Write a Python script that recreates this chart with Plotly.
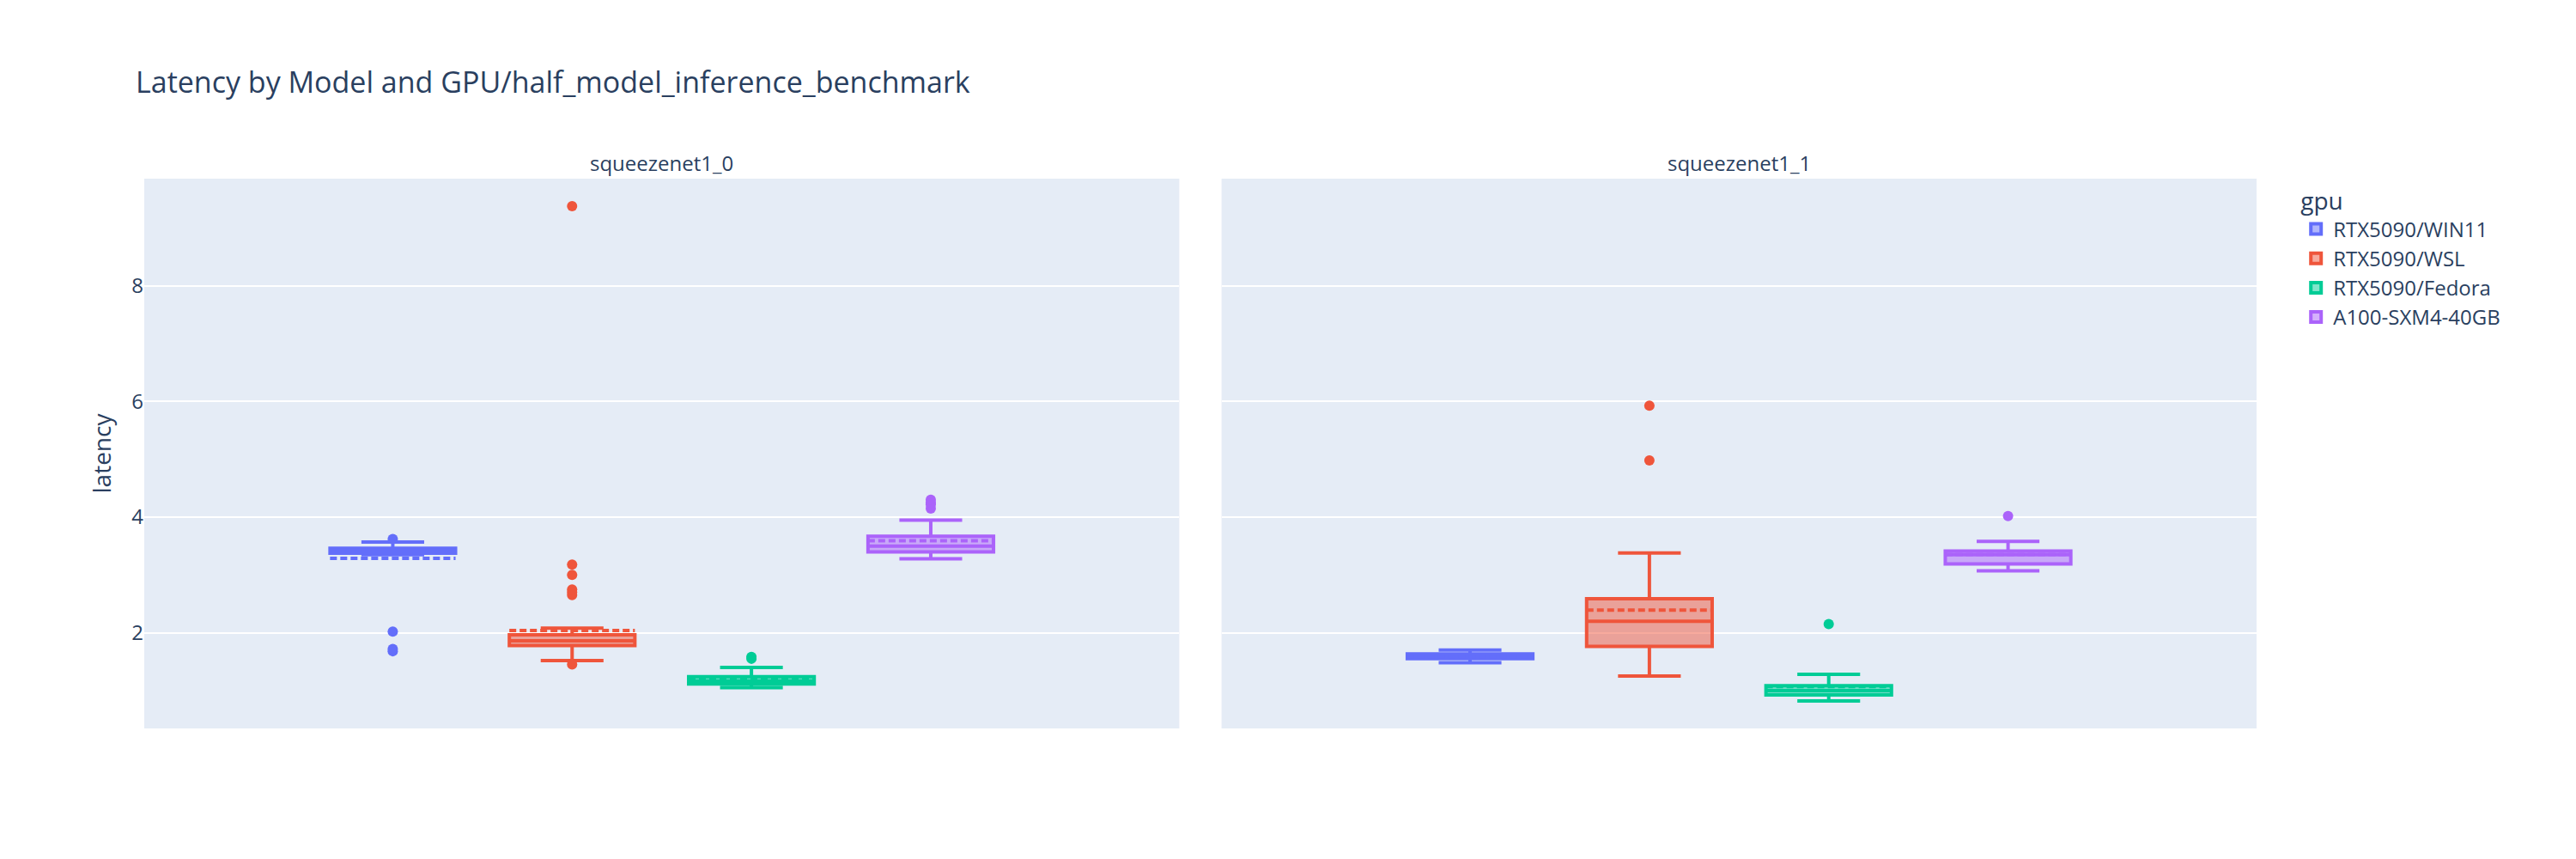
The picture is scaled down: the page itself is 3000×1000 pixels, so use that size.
import pandas as pd
import plotly.express as px

gpus = ["RTX5090/WIN11", "RTX5090/WSL", "RTX5090/Fedora", "A100-SXM4-40GB"]
models = ["squeezenet1_0", "squeezenet1_1"]

# squeezenet1_0 latency samples
s10_win11 = [3.35, 3.35, 3.36, 3.36, 3.37, 3.38, 3.38, 3.39, 3.40, 3.40, 3.41, 3.41, 3.42, 3.42, 3.42,
             3.43, 3.43, 3.44, 3.44, 3.45, 3.45, 3.46, 3.47, 3.47, 3.48, 3.49, 3.50, 3.53, 3.57, 3.62,
             2.02, 1.72, 1.68]
s10_wsl = [1.45, 1.52, 1.58, 1.62, 1.66, 1.68, 1.70, 1.71, 1.72, 1.72, 1.73, 1.74, 1.75, 1.76,
           1.77, 1.78, 1.78, 1.79, 1.80, 1.80, 1.81, 1.81, 1.82, 1.82, 1.82, 1.83, 1.83, 1.84, 1.84,
           1.85, 1.85, 1.86, 1.86, 1.87, 1.87, 1.88, 1.88, 1.89, 1.89, 1.90, 1.90, 1.90, 1.91,
           1.92, 1.93, 1.94, 1.95, 1.96, 1.97, 1.98, 1.99, 2.00, 2.02, 2.04, 2.06, 2.07, 2.08, 2.05,
           9.38, 3.18, 3.00, 2.75, 2.70, 2.65]
s10_fedora = [1.05, 1.07, 1.09, 1.10, 1.10, 1.11, 1.12, 1.13, 1.14, 1.15, 1.15, 1.16, 1.17, 1.18,
              1.19, 1.20, 1.20, 1.22, 1.26, 1.30, 1.58, 1.55, 1.40, 1.36]
s10_a100 = [3.28, 3.29, 3.30, 3.32, 3.33, 3.35, 3.38, 3.40, 3.40, 3.42, 3.45, 3.45, 3.47, 3.48,
            3.50, 3.50, 3.52, 3.55, 3.55, 3.58, 3.60, 3.64, 3.67, 3.70, 3.80, 3.95, 4.15,
            4.30, 4.25, 4.22]

# squeezenet1_1 latency samples
s11_win11 = [1.52, 1.53, 1.55, 1.56, 1.57, 1.58, 1.58, 1.59, 1.60, 1.62, 1.64, 1.65, 1.66, 1.70, 1.48]
s11_wsl = [1.25, 1.40, 1.55, 1.62, 1.66, 1.70, 1.75, 1.80, 1.90, 1.95, 2.05, 2.10, 2.15, 2.20,
           2.22, 2.25, 2.28, 2.35, 2.45, 2.55, 2.60, 2.65, 2.80, 3.05, 3.38, 5.93, 4.98]
s11_fedora = [0.82, 0.85, 0.88, 0.90, 0.93, 0.95, 0.97, 0.98, 1.00, 1.02, 1.04, 1.06, 1.08, 1.10,
              1.18, 1.28, 2.15]
s11_a100 = [3.07, 3.10, 3.14, 3.18, 3.22, 3.28, 3.32, 3.35, 3.37, 3.39, 3.40, 3.42, 3.45, 3.58, 4.02]

samples = {
    "squeezenet1_0": [s10_win11, s10_wsl, s10_fedora, s10_a100],
    "squeezenet1_1": [s11_win11, s11_wsl, s11_fedora, s11_a100],
}

rows = []
for m in models:
    for g, vals in zip(gpus, samples[m]):
        for v in vals:
            rows.append({"model": m, "gpu": g, "latency": v})
df = pd.DataFrame(rows)

fig = px.box(df, y="latency", color="gpu", facet_col="model",
             category_orders={"gpu": gpus, "model": models},
             title="Latency by Model and GPU/half_model_inference_benchmark")
fig.update_traces(boxmean=True, line_width=4, marker_size=12)
fig.for_each_annotation(lambda a: a.update(text=a.text.split("=")[-1], font_size=24))

fig.update_layout(
    width=3000, height=1000,
    template="plotly",
    font=dict(size=24),
    title_font_size=34,
    margin=dict(l=160, r=380, t=200, b=160),
    legend=dict(font_size=24, title_font_size=28),
)
fig.update_yaxes(dtick=2, gridwidth=2, tickfont_size=24)
fig.update_yaxes(title_font_size=28, col=1)

fig.write_html("out.html")
